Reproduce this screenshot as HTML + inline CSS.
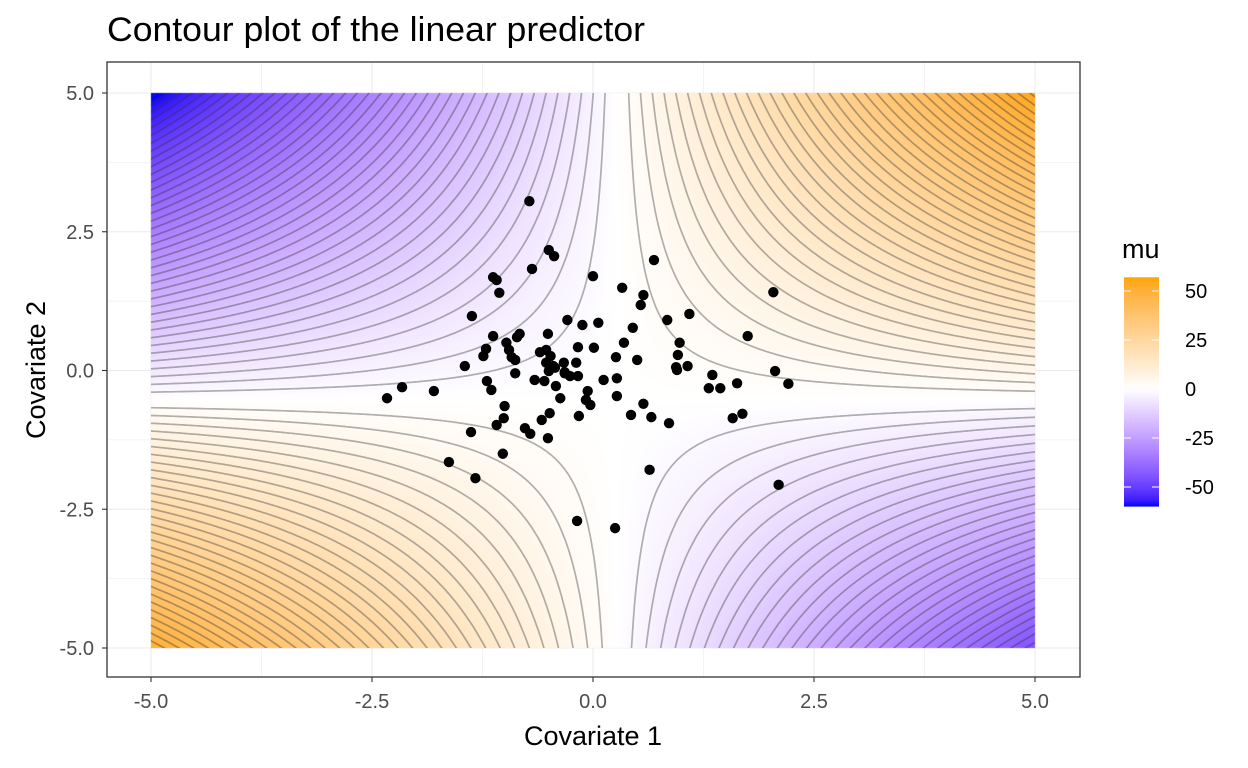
<!DOCTYPE html>
<html><head><meta charset="utf-8"><style>
body{margin:0;background:#fff;font-family:"Liberation Sans",sans-serif;}
#wrap{position:relative;width:1248px;height:768px;}
canvas,svg{position:absolute;left:0;top:0;}
</style></head><body>
<div id="wrap">
<svg id="bg" width="1248" height="768"></svg>
<canvas id="cv" width="1248" height="768"></canvas>
<svg id="sv" width="1248" height="768"></svg>
</div>
<script>
const coefD = 2.1, centerX = 0.27, centerY = -0.53, offsetK = 0;
const contourStep = 1.55;
const ptsX = [];
const ptsY = [];
const pixPts = [[529,201],[549,250],[554,256],[532,269],[493,277],[497,280],[499,293],[593,276],[654,260],[622,288],[643,295],[641,305],[773,292],[472,316],[493,336],[520,334],[517,337],[548,334],[567,320],[582,325],[598,323],[633,328],[667,320],[689,314],[748,336],[680,343],[486,349],[483,356],[506,343],[509,350],[512,357],[515,360],[546,350],[540,352],[551,356],[578,347],[594,348],[624,343],[637,360],[678,355],[465,366],[515,373],[535,380],[546,363],[553,366],[549,371],[555,368],[564,363],[576,363],[565,373],[570,376],[578,376],[588,391],[604,380],[617,378],[616,357],[676,367],[688,366],[677,370],[709,388],[712,375],[720,388],[737,383],[775,371],[788,384],[387,398],[402,387],[434,391],[487,381],[491,390],[556,386],[560,398],[586,400],[590,405],[617,396],[643,404],[505,406],[504,418],[550,413],[542,420],[579,416],[631,415],[651,417],[669,423],[733,418],[742,414],[497,425],[525,428],[530,434],[548,438],[471,432],[503,454],[449,462],[475,478],[650,470],[779,485],[577,521],[615,528],[544,381],[565,372]];
pixPts.forEach(p=>{ptsX.push(+((p[0]-593)/88.4).toFixed(2));ptsY.push(+((370.5-p[1])/55.5).toFixed(2));});
const xTicks=[-5,-2.5,0,2.5,5], xTickLabels=["-5.0","-2.5","0.0","2.5","5.0"];
const yTicks=[-5,-2.5,0,2.5,5], yTickLabels=["-5.0","-2.5","0.0","2.5","5.0"];
const legendTicks=[50,25,0,-25,-50];
const legendMin=-60, legendMax=57;

const P={l:107,r:1080,t:62,b:677};
const sx=v=>593+v*88.4, sy=v=>370.5-v*55.5;
const mu=(a,b)=>coefD*(a-centerX)*(b-centerY)+offsetK;
function toLin(c){c/=255;return c<=0.04045?c/12.92:Math.pow((c+0.055)/1.055,2.4);}
function fromLin(c){c=c<=0.0031308?12.92*c:1.055*Math.pow(c,1/2.4)-0.055;return Math.max(0,Math.min(255,Math.round(c*255)));}
function rgb2lab(r,g,b){r=toLin(r);g=toLin(g);b=toLin(b);
 let X=(0.4124*r+0.3576*g+0.1805*b)/0.95047,Y=0.2126*r+0.7152*g+0.0722*b,Z=(0.0193*r+0.1192*g+0.9505*b)/1.08883;
 const f=t=>t>0.008856?Math.cbrt(t):7.787*t+16/116;
 X=f(X);Y=f(Y);Z=f(Z);return [116*Y-16,500*(X-Y),200*(Y-Z)];}
function lab2rgb(L,a,b){let Y=(L+16)/116,X=a/500+Y,Z=Y-b/200;
 const fi=t=>t*t*t>0.008856?t*t*t:(t-16/116)/7.787;
 X=fi(X)*0.95047;Y=fi(Y);Z=fi(Z)*1.08883;
 const r=3.2406*X-1.5372*Y-0.4986*Z,g=-0.9689*X+1.8758*Y+0.0415*Z,bb=0.0557*X-0.2040*Y+1.0570*Z;
 return [fromLin(r),fromLin(g),fromLin(bb)];}
const LW=rgb2lab(255,255,255),LB=rgb2lab(0,0,255),LO=rgb2lab(255,165,0);
function col(v){
  let t,e;
  if(v>=0){t=Math.min(1,v/legendMax);e=LO;} else {t=Math.min(1,-v/(-legendMin));e=LB;}
  return lab2rgb(LW[0]+(e[0]-LW[0])*t,LW[1]+(e[1]-LW[1])*t,LW[2]+(e[2]-LW[2])*t);
}
const NS="http://www.w3.org/2000/svg";
function mk(par,tag,at,txt){const e=document.createElementNS(NS,tag);for(const k in at)e.setAttribute(k,at[k]);if(txt!==undefined)e.textContent=txt;par.appendChild(e);return e;}
const bg=document.getElementById('bg');
mk(bg,'rect',{x:P.l,y:P.t,width:P.r-P.l,height:P.b-P.t,fill:'#fff'});
for(let i=-5;i<=5;i+=1.25){
  const maj=(i%2.5===0);
  mk(bg,'line',{x1:sx(i),x2:sx(i),y1:P.t,y2:P.b,stroke:'#ebebeb','stroke-width':maj?1.1:0.6});
  mk(bg,'line',{y1:sy(i),y2:sy(i),x1:P.l,x2:P.r,stroke:'#ebebeb','stroke-width':maj?1.1:0.6});
}
const cv=document.getElementById('cv'),cx=cv.getContext('2d');
const x0p=sx(-5),x1p=sx(5),y0p=sy(5),y1p=sy(-5);
const img=cx.createImageData(Math.round(x1p-x0p),Math.round(y1p-y0p));
for(let j=0;j<img.height;j++)for(let i=0;i<img.width;i++){
  const a=-5+10*i/(img.width-1), b=5-10*j/(img.height-1);
  const c=col(mu(a,b)),k=(j*img.width+i)*4;
  img.data[k]=c[0];img.data[k+1]=c[1];img.data[k+2]=c[2];img.data[k+3]=255;
}
cx.putImageData(img,Math.round(x0p),Math.round(y0p));
const sv=document.getElementById('sv');
const defs=mk(sv,'defs',{});
const cp=mk(defs,'clipPath',{id:'cp'});
mk(cp,'rect',{x:x0p,y:y0p,width:x1p-x0p,height:y1p-y0p});
const cg=mk(sv,'g',{'clip-path':'url(#cp)'});


for(let n=-40;n<=40;n++){
  const L=n*contourStep; if(L===0)continue;
  [[-5.2,centerX-0.0005],[centerX+0.0005,5.2]].forEach(([a0,a1])=>{
    let d='';
    for(let s=0;s<=400;s++){
      const a=a0+(a1-a0)*s/400, b=centerY+(L-offsetK)/(coefD*(a-centerX));
      if(b<-6||b>6)continue;
      d+=(d?'L':'M')+sx(a).toFixed(1)+','+sy(b).toFixed(1);
    }
    if(d){const p=mk(cg,'path',{d:d,fill:'none',stroke:'#333','stroke-opacity':0.38,'stroke-width':1.7});
    }
  });
}
const pg=mk(sv,'g',{});

for(let i=0;i<ptsX.length;i++){
  const c=mk(pg,'circle',{cx:sx(ptsX[i]),cy:sy(ptsY[i]),r:5.2,fill:'#000'});
  
}
const br=mk(sv,'rect',{x:P.l,y:P.t,width:P.r-P.l,height:P.b-P.t,fill:'none',stroke:'#333','stroke-width':1.3});

xTicks.forEach((v,i)=>{
  mk(sv,'line',{x1:sx(v),x2:sx(v),y1:P.b,y2:P.b+5,stroke:'#333','stroke-width':1.1});
  const t=mk(sv,'text',{x:sx(v),y:708,'text-anchor':'middle','font-size':20,fill:'#4d4d4d'},xTickLabels[i]);
  
});
yTicks.forEach((v,i)=>{
  mk(sv,'line',{x1:P.l-5,x2:P.l,y1:sy(v),y2:sy(v),stroke:'#333','stroke-width':1.1});
  const t=mk(sv,'text',{x:P.l-13,y:sy(v)+7,'text-anchor':'end','font-size':20,fill:'#4d4d4d'},yTickLabels[i]);
  
});
let t=mk(sv,'text',{x:107,y:41,'font-size':34,fill:'#000',textLength:538,lengthAdjust:'spacingAndGlyphs'},'Contour plot of the linear predictor');

t=mk(sv,'text',{x:593,y:745,'text-anchor':'middle','font-size':27,fill:'#000'},'Covariate 1');

t=mk(sv,'text',{x:0,y:0,'text-anchor':'middle','font-size':27,fill:'#000',transform:'translate(45,370) rotate(-90)'},'Covariate 2');

t=mk(sv,'text',{x:1122,y:258,'font-size':27,fill:'#000'},'mu');

const lg=mk(defs,'linearGradient',{id:'lg',x1:0,y1:0,x2:0,y2:1});
for(let s=0;s<=40;s++){const v=legendMax+(legendMin-legendMax)*s/40,c=col(v);
  mk(lg,'stop',{offset:s/40,'stop-color':`rgb(${c})`});}
const ly=v=>389-v*1.96;
const bar=mk(sv,'rect',{x:1124,y:ly(legendMax),width:35,height:ly(legendMin)-ly(legendMax),fill:'url(#lg)'});

legendTicks.forEach(v=>{
  mk(sv,'line',{x1:1124,x2:1131,y1:ly(v),y2:ly(v),stroke:'#fff','stroke-width':1});
  mk(sv,'line',{x1:1152,x2:1159,y1:ly(v),y2:ly(v),stroke:'#fff','stroke-width':1});
  const tt=mk(sv,'text',{x:1185,y:ly(v)+7,'font-size':20,fill:'#000'},String(v));
  
});
</script>
</body></html>
